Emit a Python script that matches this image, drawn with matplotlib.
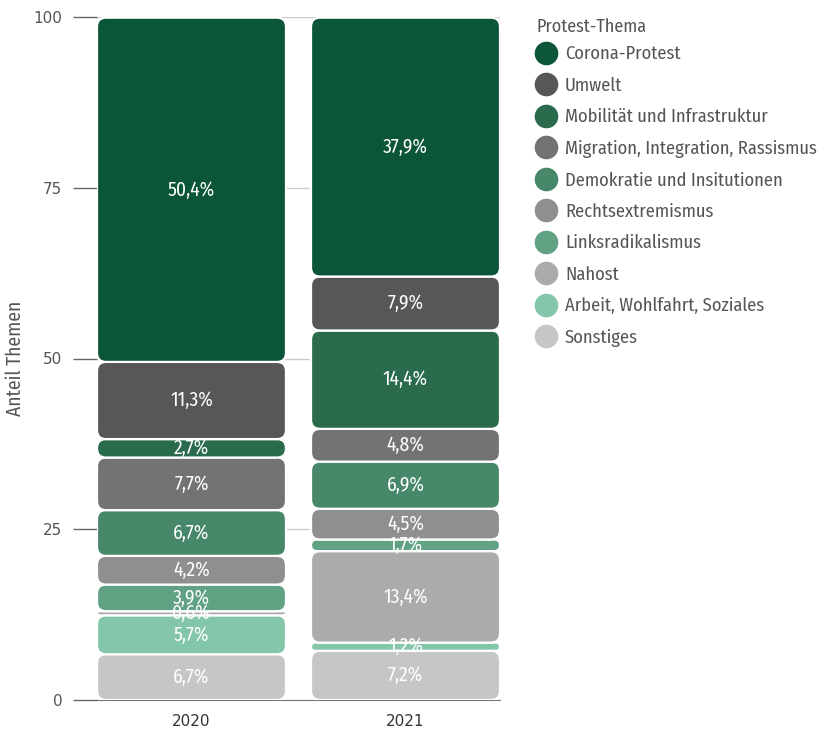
import matplotlib.pyplot as plt
from matplotlib.patches import FancyBboxPatch
from matplotlib.lines import Line2D

years = ['2020', '2021']
themes = ['Corona-Protest', 'Umwelt', 'Mobilität und Infrastruktur',
          'Migration, Integration, Rassismus', 'Demokratie und Insitutionen',
          'Rechtsextremismus', 'Linksradikalismus', 'Nahost',
          'Arbeit, Wohlfahrt, Soziales', 'Sonstiges']
colors = ['#0b5538', '#575755', '#2a6b4e', '#737373', '#47876a',
          '#8f8f8f', '#60a283', '#ababab', '#84c6a9', '#c6c6c6']
share_2020 = [50.4, 11.3, 2.7, 7.7, 6.7, 4.2, 3.9, 0.6, 5.7, 6.7]
share_2021 = [37.9, 7.9, 14.4, 4.8, 6.9, 4.5, 1.7, 13.4, 1.2, 7.2]

FONT = ['Fira Sans Condensed', 'DejaVu Sans']

W, H = 824, 731
fig = plt.figure(figsize=(W / 100, H / 100), dpi=100)
ax = fig.add_axes([97 / W, 31 / H, 403 / W, 683 / H])

bw = 0.883
ax.set_xlim(-bw / 2, 1 + bw / 2)
ax.set_ylim(0, 100)

# px per data unit, for rounded corners
px_x = 403 / (1 + bw)
px_y = 683 / 100
aspect = px_x / px_y

for i, vals in enumerate([share_2020, share_2021]):
    bottom = 0
    # stack from the bottom: last theme first
    for v, c in zip(vals[::-1], colors[::-1]):
        r = min(9 / px_x, v * px_y / px_x / 2)
        p = FancyBboxPatch((i - bw / 2, bottom), bw, v,
                           boxstyle='round,pad=0,rounding_size=%f' % r,
                           mutation_aspect=aspect,
                           facecolor=c, edgecolor='white', linewidth=1.6, zorder=3)
        ax.add_patch(p)
        txt = ('%.1f%%' % v).replace('.', ',')
        ax.text(i, bottom + v / 2, txt, ha='center', va='center', color='white',
                fontsize=14, family=FONT, zorder=4)
        bottom += v

ax.set_yticks([0, 25, 50, 75, 100])
ax.grid(axis='y', color='#cccccc', linewidth=1, zorder=0)
ax.set_xticks([0, 1])
ax.set_xticklabels(years)
for s in ['top', 'right', 'left']:
    ax.spines[s].set_visible(False)
ax.spines['bottom'].set_color('#777777')
ax.tick_params(axis='y', length=17, width=1, color='#666666', labelcolor='#555555',
               labelsize=11, pad=8)
ax.tick_params(axis='x', length=0, labelcolor='#333333', labelsize=11, pad=10)
ax.set_ylabel('Anteil Themen', color='#555555', fontsize=14, family=FONT, labelpad=6)

fig.text(537 / W, 1 - 27 / H, 'Protest-Thema', ha='left', va='center',
         color='#555555', fontsize=13, family=FONT)
handles = [Line2D([], [], marker='o', linestyle='none', markersize=16,
                  markerfacecolor=c, markeredgecolor=c) for c in colors]
leg = fig.legend(handles, themes, loc='upper left',
                 bbox_to_anchor=(528 / W, 1 - 38 / H), frameon=False,
                 prop={'family': FONT, 'size': 13.3}, labelspacing=0.74,
                 handletextpad=0.4, handlelength=1.2, borderaxespad=0)
for t in leg.get_texts():
    t.set_color('#555555')

fig.savefig('out.png', dpi=100)
